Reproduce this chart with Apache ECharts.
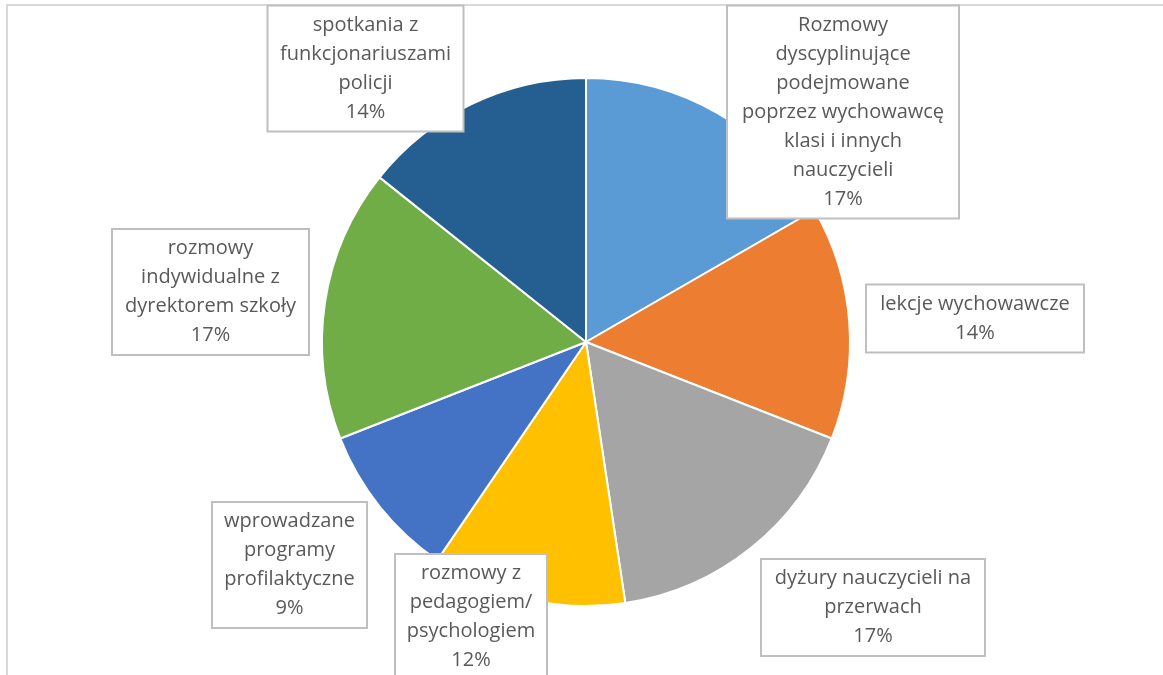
<!DOCTYPE html>
<html><head><meta charset="utf-8">
<script src="https://cdn.jsdelivr.net/npm/echarts@6/dist/echarts.min.js"></script>
<style>html,body{margin:0;padding:0;background:#fff}#chart{width:1163px;height:675px}</style>
</head><body><div id="chart"></div>
<script>
// ---- data ----
const categories = [
  "Rozmowy dyscyplinujące podejmowane poprzez wychowawcę klasi i innych nauczycieli",
  "lekcje wychowawcze",
  "dyżury nauczycieli na przerwach",
  "rozmowy z pedagogiem/ psychologiem",
  "wprowadzane programy profilaktyczne",
  "rozmowy indywidualne z dyrektorem szkoły",
  "spotkania z funkcjonariuszami policji"
];
const wrappedNames = [
  "Rozmowy\ndyscyplinujące\npodejmowane\npoprzez wychowawcę\nklasi i innych\nnauczycieli",
  "lekcje wychowawcze",
  "dyżury nauczycieli na\nprzerwach",
  "rozmowy z\npedagogiem/\npsychologiem",
  "wprowadzane\nprogramy\nprofilaktyczne",
  "rozmowy\nindywidualne z\ndyrektorem szkoły",
  "spotkania z\nfunkcjonariuszami\npolicji"
];
const values = [7, 6, 7, 5, 4, 7, 6];
const percentLabels = ["17%", "14%", "17%", "12%", "9%", "17%", "14%"];
const colors = ["#5B9BD5", "#ED7D31", "#A5A5A5", "#FFC000", "#4472C4", "#70AD47", "#255E91"];

// ---- layout (label box centres and text widths) ----
const labelCenters = [[843, 112], [975, 318.5], [873, 607.5], [471, 617], [289.5, 565], [210.5, 292], [365.5, 68.5]];
const labelWidths = [222, 208, 214, 142, 145, 187, 186];

const chart = echarts.init(document.getElementById('chart'));
chart.setOption({
  animation: false,
  backgroundColor: '#ffffff',
  graphic: [{
    type: 'rect', z: -10, silent: true,
    shape: { x: 7, y: 5, width: 1300, height: 900 },
    style: { fill: 'none', stroke: '#D9D9D9', lineWidth: 2 }
  }],
  series: [{
    type: 'pie',
    center: [586, 342],
    radius: [0, 264],
    startAngle: 90,
    clockwise: true,
    avoidLabelOverlap: false,
    itemStyle: { borderColor: '#ffffff', borderWidth: 2 },
    labelLine: { show: false },
    label: {
      show: true,
      position: 'outside',
      fontFamily: 'Open Sans',
      fontSize: 20,
      lineHeight: 29,
      color: '#595959',
      align: 'center',
      backgroundColor: '#ffffff',
      borderColor: '#BFBFBF',
      borderWidth: 2,
      padding: [4, 4]
    },
    labelLayout: function (p) {
      const c = labelCenters[p.dataIndex];
      return { x: c[0], y: c[1], align: 'center', verticalAlign: 'middle' };
    },
    data: categories.map(function (name, i) {
      return {
        name: name,
        value: values[i],
        itemStyle: { color: colors[i] },
        label: {
          width: labelWidths[i],
          formatter: wrappedNames[i] + '\n' + percentLabels[i]
        }
      };
    })
  }]
});
</script>
</body></html>
